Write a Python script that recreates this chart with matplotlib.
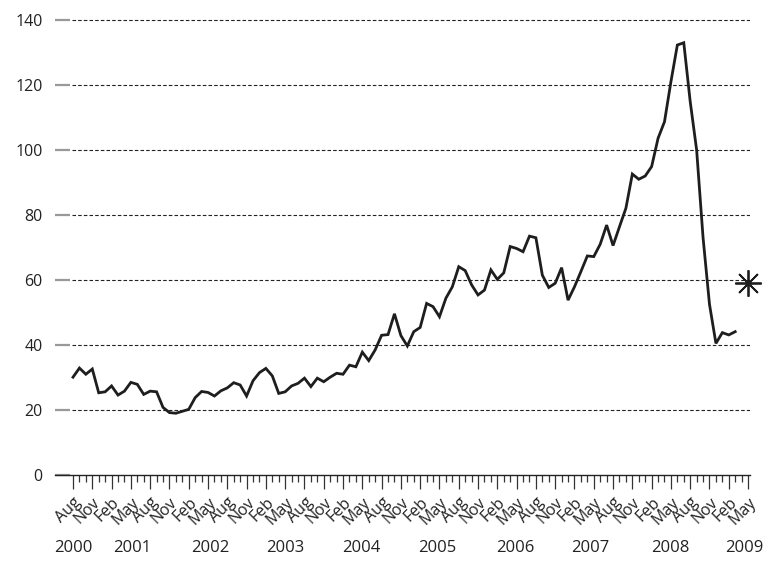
import matplotlib.pyplot as plt
import matplotlib.transforms as mtransforms

plt.rcParams['font.family'] = ['Open Sans', 'DejaVu Sans']

# monthly values, Aug 2000 .. Mar 2009
values = [30.1, 32.9, 31.0, 32.6, 25.3, 25.6, 27.4, 24.6, 25.8, 28.5, 27.9, 24.8,
          25.8, 25.6, 20.8, 19.2, 19.0, 19.6, 20.2, 23.8, 25.7, 25.4, 24.3, 25.9,
          26.8, 28.4, 27.7, 24.3, 29.0, 31.5, 32.8, 30.5, 25.1, 25.6, 27.4, 28.2,
          29.8, 27.2, 29.8, 28.7, 30.1, 31.3, 31.0, 33.8, 33.3, 37.8, 35.2, 38.5,
          43.0, 43.2, 49.6, 42.9, 39.7, 44.1, 45.4, 52.8, 51.8, 48.7, 54.4, 57.9,
          64.1, 62.9, 58.5, 55.4, 56.9, 63.1, 60.2, 62.2, 70.3, 69.7, 68.7, 73.5,
          73.0, 61.5, 57.7, 59.0, 63.8, 53.8, 57.9, 62.6, 67.4, 67.2, 71.0, 76.9,
          70.6, 76.4, 82.1, 92.6, 91.0, 92.0, 94.9, 103.6, 108.7, 121.0, 132.3, 133.0,
          114.9, 100.0, 73.0, 52.5, 40.5, 43.8, 43.1, 44.1]
months = list(range(len(values)))

# single marked point, May 2009
star_month = 105
star_value = 59

quarter_labels = (['Aug', 'Nov', 'Feb', 'May'] * 9)[:36]
years = ['2000', '2001', '2002', '2003', '2004', '2005', '2006', '2007', '2008', '2009']
year_pos = [0, 9.2, 21.3, 33.0, 44.8, 56.6, 68.8, 80.4, 92.9, 104.4]
yticks = [0, 20, 40, 60, 80, 100, 120, 140]

fig = plt.figure(figsize=(7.63, 5.64), dpi=100)
ax = fig.add_axes([55 / 763, 89 / 564, 695 / 763, 145 * 3.25 / 564])
ax.set_xlim(-2.8, 105.3)
ax.set_ylim(0, 145)

for s in ['top', 'right', 'left']:
    ax.spines[s].set_visible(False)
ax.spines['bottom'].set_color('#222222')
ax.spines['bottom'].set_linewidth(1.0)

ax.hlines(yticks[1:], -0.2, 105.3, colors='#222222', linewidth=0.8,
          linestyles=(0, (3.2, 1.9)), zorder=1)

ax.plot(months, values, color='#1e1e1e', linewidth=2.0, solid_joinstyle='miter', zorder=3)
ax.plot([star_month], [star_value], linestyle='none', marker=(8, 2, 0),
        markersize=19, markeredgewidth=1.3, color='#1e1e1e', zorder=3, clip_on=False)

ax.set_yticks(yticks)
ax.set_yticklabels([str(v) for v in yticks])
ax.tick_params(axis='y', direction='in', length=11, width=1.6, color='#999999',
               pad=9, labelsize=11.5, labelcolor='#222222')

ax.set_xticks(list(range(0, 106, 3)))
ax.set_xticklabels(quarter_labels)
ax.set_xticks(list(range(0, 106)), minor=True)
ax.tick_params(axis='x', which='major', direction='out', length=10, width=0.9,
               color='#333333', labelsize=11.5, labelcolor='#222222', pad=4)
ax.tick_params(axis='x', which='minor', direction='out', length=5, width=0.9,
               color='#333333')
for lab in ax.get_xticklabels():
    lab.set_rotation(45)
    lab.set_ha('right')
    lab.set_va('top')
    lab.set_rotation_mode('anchor')

trans = mtransforms.blended_transform_factory(ax.transData, fig.transFigure)
for yr, xp in zip(years, year_pos):
    ax.text(xp, 16 / 564, yr, transform=trans, ha='center', va='center',
            fontsize=12, color='#222222')

fig.savefig('out.png', dpi=100)
